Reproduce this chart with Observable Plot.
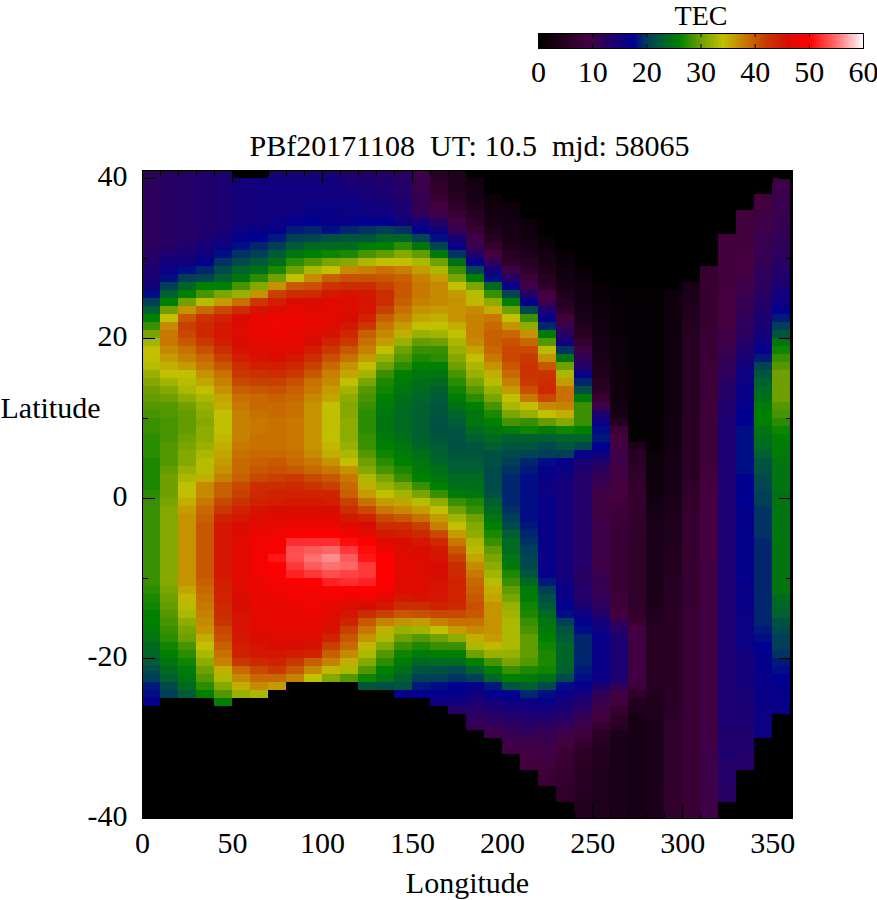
<!DOCTYPE html>
<html><head><meta charset="utf-8">
<script src="https://cdn.jsdelivr.net/npm/d3@7"></script>
<script src="https://cdn.jsdelivr.net/npm/@observablehq/plot@0.6"></script>
<style>html,body{margin:0;padding:0;background:#fff}svg{display:block}</style>
</head><body><div id="legend"></div><div id="chart"></div>
<script>
const lon0=[12,12,12,12,12,12,12,12,12,12,12.5,13,14,14.5,15,18,20,23,26,28,30.5,32.5,34,34,33.5,32,31,30,29.5,29,28.5,28,28,27.5,27.5,27.5,27,27,27,27,
27.5,28,28,28,28,28,28,28,28,28,28,28,27.5,27,26.5,26,26,25.5,25,24,23.5,22.5,21,20,18.5,18,17,0,0,0,0,0,0,0,0,0,0,0,0,0,0];
const lon10=[12.5,12.5,12.5,12.5,12.5,12.5,12.5,12.5,12.5,12.5,14,15,16,18,20,23,26,30,34,37,38,38,37,36,35,34,32.5,31,30,29,29,28.5,28.5,28.5,29,29,29,29.5,30,30,
30,30.5,31,31,31,31,31,31,31,31,31,31,30.5,30,29.5,29,28.5,28,27.5,26.5,26,25,24,23,21,20,0,0,0,0,0,0,0,0,0,0,0,0,0,0,0];
const lon20=[13,13,13,13,13,13,13,13,13,13.5,14.5,15.5,18,20,23.5,26,30,36.5,40,41.5,41,40,38.5,37.5,36,34,33.5,33,31.5,30,29.5,29.5,29.5,30,30.5,31,31,32,33,34,
34,35,36,36.5,36.5,36.5,36.5,36.5,36.5,36.5,36.5,36.5,35.5,34.5,33.5,33,31.5,30.5,30,28.5,27.5,26.5,25.5,25,24,22.5,0,0,0,0,0,0,0,0,0,0,0,0,0,0,0];
const lon30=[13.5,13.5,13.5,13.5,13.5,13.5,13.5,13.5,14,15,15.5,17,19,20.5,26,28.5,33.5,39,42.5,43.5,43.5,42,40.5,39,38,36.5,35.5,34,33,32,31.5,31,31.5,31.5,32,33,33.5,33.5,35,37,
37,38,39,39.5,40,40,40,40,40,40,40,39.5,39,38.5,38,37.5,37,36.5,35,34,33,31.5,30,29,27.5,26,0,0,0,0,0,0,0,0,0,0,0,0,0,0,0];
const lon40=[14,14,14,14,14,14,14,14,15,16,18,19.5,21,23,26,30.5,36,41,44,45,45,44.5,43,41.5,40,38.5,37.5,36.5,35.5,35,34,34,34,34.5,35,35.5,36,36.5,37.5,39.5,
39.5,41,42,44,45,45,45,45,45,45,45,44.5,44,44,43.5,43,42.5,41,40.5,39.5,38.5,37.5,35,33,31,29,26,0,0,0,0,0,0,0,0,0,0,0,0,0,0];
const lon50=[0,15,15,15,15,15,15,16,17,18,19.5,21,23.5,25,28.5,32,38.5,43,46,46.5,46.5,46,45.5,44.5,43,42,41,39.5,38.5,38,37.5,37.5,37.5,37.5,38,38.5,39,39,39.5,41,
41.5,42.5,44,45,46,46.5,47,47,47,47,47,47,46.5,46,46,45.5,45.5,45.5,45,44.5,44,42,39,37,35,32,0,0,0,0,0,0,0,0,0,0,0,0,0,0,0];
const lon60=[0,15.5,15.5,15.5,15.5,15.5,15.5,16.5,17.5,19,20,22.5,24.5,27.5,31,36.5,42,45.5,47.5,48,47.5,47,46.5,45.5,44.5,42.5,41.5,40,39,39,38.5,38,38,38.5,38.5,39,39.5,40,41,43,
43.5,44,45.5,46.5,47,48,48.5,48.5,49,49,48.5,48,48,47.5,47.5,47,47,46.5,46,45.5,45,43.5,41,39,37,33,0,0,0,0,0,0,0,0,0,0,0,0,0,0,0];
const lon70=[14.5,15.5,15.5,15.5,15.5,15.5,16,17,18.5,20,22.5,24.5,27,30,36.5,41.5,44.5,46.5,48,48.5,48,47.5,47,46,44.5,43,41.5,40.5,39.5,39,39,38.5,38.5,38.5,38.5,39,40,40.5,41.5,43,
44,44.5,46,47,47.5,48.5,49,49.5,51,50,49.5,49,48.5,48,47.5,47.5,47.5,47,46.5,46,45,44,42,39,36,0,0,0,0,0,0,0,0,0,0,0,0,0,0,0,0];
const lon80=[14.5,15.5,15.5,15.5,15.5,16,17,18.5,20,22.5,25,27.5,30,34,40,43,46,47.5,48,48,47.5,47.5,46.5,45,43.5,42,40.5,39.5,39,38.5,38.5,38,38,38,38,38.5,39,40,42,43.5,
44,45,46,47,48,49.5,52,53.5,53.5,52.5,51.5,50,49,48.5,48,47.5,47.5,47,46.5,46,44.5,42,40,37.5,0,0,0,0,0,0,0,0,0,0,0,0,0,0,0,0,0];
const lon90=[14.5,15.5,15.5,15.5,16,16.5,17.5,19,20.5,24,26,29,33,37,40.5,43.5,46,47,47.5,47.5,46.5,46,44.5,43,41.5,40,38.5,38,37,36.5,36.5,36.5,36.5,36.5,36.5,37,38,39,41,42.5,
44,45,46,47,48,50,52,54,55,54,52.5,50,49,48.5,48.5,48,47.5,47,46.5,45.5,44,39.5,37,34,0,0,0,0,0,0,0,0,0,0,0,0,0,0,0,0,0];
const lon100=[14.5,15.5,15.5,15.5,16,16.5,16.5,18,21.5,24,26.5,30.5,34,39.5,42.5,45,46.5,47,47,46.5,45.5,44,42,40.5,39,37.5,37,36,35.5,34,34,34,34,34,34.5,35,36.5,38,40,41.5,
44,44.5,46,47,48,50,52,54.5,56,55,53.5,51.5,49.5,48.5,47.5,47,46.5,45.5,44,41.5,39.5,37.5,34.5,31,0,0,0,0,0,0,0,0,0,0,0,0,0,0,0,0,0];
const lon110=[13.5,14.5,15,15.5,16,16,16.5,19,22,24,27,31,37,40.5,43,45.5,46.5,46.5,46,45,43.5,42,40,38.5,36.5,35.5,34,32.5,31.5,31,31,31.5,31.5,31.5,32,33,34,36.5,38,39,
39.5,41.5,43,45,47,48.5,50.5,52.5,54,54.5,53,52,50,48,46.5,45,44,41.5,40,39,37,35,33,29,0,0,0,0,0,0,0,0,0,0,0,0,0,0,0,0,0];
const lon120=[13.5,14,14.5,15,15.5,16,17.5,19.5,22,25.5,28.5,33,37.5,40.5,43,45,45.5,45.5,44,42,39.5,38.5,37.5,36,34,32.5,30.5,29,28.5,28,27.5,27.5,27.5,28,28,29,30,31,33,35,
36,38.5,41,44,46,47.5,49.5,50.5,51,52.5,52.5,51.5,50,48.5,46,43,40,38,36.5,34.5,33,31,29,26.5,22,0,0,0,0,0,0,0,0,0,0,0,0,0,0,0,0];
const lon130=[13,13.5,14,14.5,15,15.5,17.5,20,23.5,26,29.5,34,38.5,40,41.5,43,43,41.5,39.5,38,37,36,34,32,30,28,27,26.5,26,25.5,25,25,25,25.5,26,26.5,27.5,28.5,30.5,32,
34,36,38,41,43,45,47,48,50,50,50,50,49,47,45,41.5,37.5,35,33,31,29,27.5,26,25,21.5,0,0,0,0,0,0,0,0,0,0,0,0,0,0,0,0];
const lon140=[12.5,13,13,13.5,14,14.5,15.5,19.5,23.5,27.5,31,34,37.5,39.5,40,40,39.5,38.5,37.5,36,35,32,30,29,27.5,26,25.5,25,24.5,24,24,24,24,24.5,25,25.5,26,27,28,30.5,
32.5,35.5,37,40,43,44.5,46,46.5,47,47,47,47,46.5,45,43,40,36.5,32,30,28,26.5,25.5,24.5,23,22,17,0,0,0,0,0,0,0,0,0,0,0,0,0,0,0];
const lon150=[10,10.5,10.5,11,11,11.5,15,17,20.5,25,29.5,33,36,37.5,38,38,37.5,36.5,35.5,34,32,29.5,28,27,26,25,24.5,24,23.5,23,23,23,23,23,23.5,24.5,25,25.5,26,28,
30.5,33.5,36,38.5,41.5,43.5,45,46,46.5,46.5,46.5,46.5,46.5,45.5,43,40.5,36,32.5,29,27,25.5,23.5,22,20,18.5,17,0,0,0,0,0,0,0,0,0,0,0,0,0,0,0];
const lon160=[5,6,6.5,7.5,8.5,10,12.5,15.5,18,20.5,25.5,30,33,36,37,37,37,36,35,34,32.5,30,28,27.5,26,25,24,23,22.5,22,22,21.5,21.5,22,22.5,23,23.5,24.5,25,26,
28,31.5,34,36,37.5,41,43.5,45,45.5,46,46,45.5,45.5,45,44,41,37.5,34,30,28,26,24,21.5,20,18,17,15.5,0,0,0,0,0,0,0,0,0,0,0,0,0,0];
const lon170=[4,4,4.5,5,6,7.5,9.5,11,14,16.5,19.5,24.5,28,30.5,34,36,36.5,36.5,36.5,35,34,33,32,31,30,28.5,27.5,26.5,25.5,24.5,23.5,22.5,22,21.5,21.5,22,22.5,23,24,24.5,
25.5,28,30,32.5,34,36,38,40,41.5,43,43.5,44,44,44,43.5,41,38.5,36,31.5,28,26,24,21,19.5,17.5,17,15.5,13,0,0,0,0,0,0,0,0,0,0,0,0,0];
const lon180=[0,2.5,3,3,4,5,6,7.5,10,10.5,13,17,20.5,26,30.5,33.5,34.5,37,37.5,37.5,37.5,37,35.5,34,33,32,30.5,29,27.5,26,25,25,24,23,22,22,22.5,23,24,24.5,
25,27,28,30,31,31.5,33,34.5,35.5,37,38,39,39.5,40,40.5,40,38.5,37,35,33,30,26,23.5,20,17,15.5,14,13,12,11,0,0,0,0,0,0,0,0,0,0,0];
const lon190=[0,0,0,1.5,2,2.5,3,4,5,6.5,9,11.5,15,18,24,28,31.5,35,38,39,39.5,39.5,39,38,36.5,35,33.5,32,30.5,28.5,27,26,25,24,23,21.5,21.5,21,21,21,
21.5,23,24,25,26,27,28,29.5,30.5,31.5,32.5,33.5,35,35.5,36.5,36.5,36.5,36.5,36,34.5,32,28.5,26,23.5,18.5,17,15,13.5,12.5,11,10,0,0,0,0,0,0,0,0,0,0];
const lon200=[0,0,0,0,2,2,2.5,3,3,4,5,6,10,12.5,16.5,20.5,26,30,34,36.5,39,40.5,41,41,40,39,37.5,36,34,33,30.5,28.5,25.5,23,22,21,20,19.5,19,19,
19,19,19.5,20,21,23,24,24,25,25.5,27,28,29.5,30.5,32,32.5,33,33,33,33,32,30.5,28,26,22,17.5,16,14.5,13,12,11,10,9.5,0,0,0,0,0,0,0,0];
const lon210=[0,0,0,0,0,0,1.5,2,2.5,3,4,5,6,8,10,13,17,21,28,31.5,36.5,39,41,42,42.5,42.5,42,40.5,38,34,32,28,26.5,23,22,20.5,19,18.5,18,18,
18,18,18,18,18.5,19,19.5,20,20.5,21,22,24,25.5,26,26.5,27,28,28.5,29.5,29.5,29.5,29,27,25.5,23,19,16,15,13.5,12.5,11.5,10,9.5,9,8.5,0,0,0,0,0,0];
const lon220=[0,0,0,0,0,0,0,0,1,1.5,2.5,3,4,5,6,9,10,14,16.5,19,25.5,29,33.5,36.5,40,42.5,43,43.5,41,37,34,29.5,25.5,23,21,20,18,16.5,16.5,16,
16,16.5,16.5,16.5,16.5,16.5,16.5,16.5,16.5,16.5,17,18.5,20,21.5,22.5,24,25,25.5,26,26.5,27,27,26.5,24.5,21,18,16.5,15,13.5,12,11,10.5,10,9.5,8.5,8,7.5,0,0,0,0];
const lon230=[0,0,0,0,0,0,0,0,0,0,1,1.5,2,2.5,3,4,5,6,8.5,10.5,12.5,15,19.5,25,30,33,36,38.5,38.5,37.5,35,31,26.5,23.5,22,20,17,16,15.5,15,
15,15,15,15,15,15,15,15,15,15,15,15.5,16.5,16.5,17,18,20,22,22.5,23.5,23.5,23.5,23,21,18,16.5,15,14,13,11.5,10,9,8,7.5,7,7,6.5,6,6,0,0];
const lon240=[0,0,0,0,0,0,0,0,0,0,0,0,1,1.5,2,2.5,2.5,3,3.5,4.5,5,6.5,9.5,11.5,13,16.5,19,21.5,25.5,28,28,28,26,23.5,21,17,14.5,13.5,13,13,
13,13,13,13,13,13,13,13,13,13,12.5,12.5,13,13,14,16,17,18,19,19,19,19,18.5,18,17,15,13.5,12.5,11,10,8,7,6,5.5,5,5,5,5,4.5,4.5,4.5];
const lon250=[0,0,0,0,0,0,0,0,0,0,0,0,0,0,1,1,1.5,1.5,2,2,2.5,3,3,3.5,4,4,5,5.5,7.5,10,14,16,18,18.5,17.5,16,13.5,12,11,10.5,
9.5,9.5,9.5,9.5,10,10,10,10,10,10,10.5,11,11,11.5,12,13.5,15,16,17,16.5,16.5,16.5,16.5,16,14,11.5,10.5,9.5,8.5,7,5.5,5,4.5,4.5,4.5,4,4,4,4,4,4];
const lon260=[0,0,0,0,0,0,0,0,0,0,0,0,0,0,0,0.5,0.5,1,1,1,1,1.5,1.5,1.5,1.5,2,2,2,2,2.5,3,4.5,8,9,9.5,10,10,9.5,9.5,9,
9,8.5,8,8,7.5,7.5,7.5,7.5,7.5,7.5,7.5,7.5,7.5,8,8,9,11,13,14,14,14,14,14,14,12,9.5,8.5,7,6,5,3.5,3.5,3.5,3.5,3.5,3.5,3.5,3.5,3.5,3.5,3.5];
const lon270=[0,0,0,0,0,0,0,0,0,0,0,0,0,0,0,0.5,0.5,0.5,0.5,0.5,0.5,0.5,0.5,0.5,0.5,0.5,0.5,0.5,0.5,0.5,0.5,0.5,0.5,0.5,4,5,5.5,6,6,6.5,
7,6.5,6.5,6.5,6.5,6,6,6,6,6,6,6,6,6,6,6.5,7.5,9,9.5,9.5,9.5,9.5,9.5,9.5,8,6,4.5,4,3,3,3,3,3,3,3,3,3,3,3,3,3];
const lon280=[0,0,0,0,0,0,0,0,0,0,0,0,0,0,0,0.5,0.5,0.5,0.5,0.5,0.5,0.5,0.5,0.5,0.5,0.5,0.5,0.5,0.5,0.5,0.5,0.5,0.5,0.5,0.5,1.5,1.5,1.5,1.5,2,
2,2.5,3,3,3.5,3.5,3.5,3.5,3.5,3.5,3.5,3.5,3.5,3.5,4,4.5,4.5,5,5,5,5,5,5,5,5,4.5,4,4,4,3.5,3.5,3.5,3.5,3.5,3.5,3.5,3.5,3.5,3.5,3.5,3.5];
const lon290=[0,0,0,0,0,0,0,0,0,0,0,0,0,0,0,2,2,2,2,2,2,2,2,2,2,2,2,2,2,2,2,2.5,2.5,2.5,2.5,2.5,3,3,3,3,
3,3.5,3.5,4,4,4,4,4.5,4.5,4.5,4.5,5,5,5,5,5.5,5.5,5.5,5.5,5.5,5.5,5.5,5.5,5.5,5.5,5.5,5.5,5.5,6,6,6,6,6,6,6,6,6,6.5,6.5,6.5,6.5];
const lon300=[0,0,0,0,0,0,0,0,0,0,0,0,0,0,3,3.5,4,4,4.5,4.5,5,5,5,5,5,5,5,5,5,5,5,5.5,5.5,5.5,5.5,5.5,5.5,5.5,5.5,6,
6,6.5,6.5,7,7,7,7,7,7,7,7,7,7,7,7,7.5,7.5,7.5,7.5,7.5,7.5,7.5,7.5,7.5,7.5,7.5,7.5,7.5,7.5,7.5,7.5,7.5,7.5,7.5,7.5,7.5,7.5,7.5,7.5,7.5,7.5];
const lon310=[0,0,0,0,0,0,0,0,0,0,0,0,7,7,7,7,7,7,7,7,7.5,7.5,7.5,7.5,8,8,8,8,8,8,8,8,8,8,8,8,8,8.5,8.5,8.5,
9,9,9,9,9,9,9,9,9,9.5,9.5,9.5,9.5,9.5,9.5,9.5,9.5,9.5,9.5,9.5,9.5,9.5,9.5,9.5,9.5,9.5,9.5,9.5,9.5,9.5,9.5,9.5,10,10,10,10,10,10,10,10,10];
const lon320=[0,0,0,0,0,0,0,0,8.5,8.5,8.5,8.5,8.5,8.5,8.5,9,9,9,9,9,10,10,10.5,11,11.5,12,12.5,13,13,13.5,13.5,14,14,14,14,14,14,14,14,14,
14,14,14,14,14,14,14,14,14,14,14,14,14,14,14,14,14,14,14,14,14,14,14,14,14,14,14,14,14,14,13.5,13.5,13.5,13.5,13,13,13,12.5,12.5,0,0];
const lon330=[0,0,0,0,0,8.5,8.5,8.5,8.5,8.5,9,9,9,9.5,10,10.5,11,11,11.5,12,12,13,13.5,14.5,15,16,16,16.5,16.5,17,17.5,17.5,18,18,18,18,18,18,17.5,17.5,
17.5,17.5,17,17,17,17,17,17,17,17,17,17,16.5,16.5,16.5,16,16,16,16,16,15.5,15,15,15,15,14.5,14.5,14,14,14,13.5,13.5,13.5,13,13,0,0,0,0,0,0];
const lon340=[0,0,0,8.5,9,9.5,10,10,10.5,10.5,11,11,11.5,12,12,12.5,13,13.5,14,14.5,15,16,17,18.5,20.5,22,23,24,24.5,25.5,26,26,25,24.5,24,23,22,21.5,21,20.5,
20,20,19.5,19.5,19.5,19.5,19,19,19,19,19,19,19,19,19,19,19,18.5,18,17.5,17,17,17,16.5,16.5,16.5,16.5,16,16,16,16,0,0,0,0,0,0,0,0,0,0];
const lon350=[0,10,10,10.5,10.5,10.5,11,11,11.5,11.5,12,12.5,13,13.5,14,15.5,16,17,18.5,20,22,25,26.5,28,29,30,30,30,30,29,28.5,27.5,26.5,26,25.5,25.5,25,25,25,25,
24.5,25,25,25,25,25,25,25,25,25,25,25,25,24,23.5,23,21.5,21,20,20,19.5,18.5,18,17.5,17,17,16.5,16.5,0,0,0,0,0,0,0,0,0,0,0,0,0];

const lonColumns=[lon0,lon10,lon20,lon30,lon40,lon50,lon60,lon70,lon80,lon90,lon100,lon110,lon120,lon130,lon140,lon150,lon160,lon170,lon180,lon190,lon200,lon210,lon220,lon230,lon240,lon250,lon260,lon270,lon280,lon290,lon300,lon310,lon320,lon330,lon340,lon350];

const paletteStops=[0,9,13,17.5,20,23,26,30,34,38,42,46,50,55,60];
const paletteColors=["#000000","#46003f","#240068","#000090","#003f58","#006030","#008000","#70a000","#c0c000","#c87800","#c83800","#d80c00","#ff0000","#ff7070","#ffffff"];
const colorScale={type:"linear",domain:paletteStops,range:paletteColors,interpolate:"rgb",clamp:true};
const serif='"Liberation Serif",serif';
const lonLabels=[0,50,100,150,200,250,300,350];
const latLabels=[-40,-20,0,20,40];
const lonTicks=d3.range(0,361,10), latTicks=[-30,-10,10,30];
const cells=lonColumns.flatMap((col,i)=>col.map((v,k)=>({lon:i*10,lat:40-k,v})));

const H=648;
const chart=Plot.plot({
  width:877,height:800,marginLeft:142,marginRight:85,marginTop:70,marginBottom:82,
  style:{fontFamily:serif,fontSize:"30px",background:"#fff",color:"#000"},
  x:{domain:[0,361]},y:{domain:[-40,41]},color:colorScale,
  marks:[
    Plot.frame({fill:"#000"}),
    Plot.rect(cells,{x1:"lon",x2:d=>d.lon+10,y1:"lat",y2:d=>d.lat+1,fill:"v",shapeRendering:"crispEdges"}),
    Plot.tickX(lonTicks,{x:d=>d,insetBottom:H-6,stroke:"#000"}),
    Plot.tickX(lonTicks,{x:d=>d,insetTop:H-6,stroke:"#000"}),
    Plot.tickX(lonLabels,{x:d=>d,insetBottom:H-13,stroke:"#000"}),
    Plot.tickX(lonLabels,{x:d=>d,insetTop:H-13,stroke:"#000"}),
    Plot.tickY(latTicks,{y:d=>d,insetRight:650-6,stroke:"#000"}),
    Plot.tickY(latTicks,{y:d=>d,insetLeft:650-6,stroke:"#000"}),
    Plot.tickY(latLabels,{y:d=>d,insetRight:650-13,stroke:"#000"}),
    Plot.tickY(latLabels,{y:d=>d,insetLeft:650-13,stroke:"#000"}),
    Plot.frame({stroke:"#000"}),
    Plot.axisX({ticks:lonLabels,tickSize:0,tickPadding:13,label:null,tickFormat:d=>String(d)}),
    Plot.axisY({ticks:latLabels,tickSize:0,tickPadding:15,label:null,dy:-2,tickFormat:d=>String(d)}),
    Plot.text(["Longitude"],{frameAnchor:"bottom",dy:74,text:d=>d,fontSize:30}),
    Plot.text(["Latitude"],{frameAnchor:"left",dx:-142,dy:-86,textAnchor:"start",text:d=>d,fontSize:30}),
    Plot.text(["PBf20171108  UT: 10.5  mjd: 58065"],{frameAnchor:"top",dy:-36,dx:2,text:d=>d,fontSize:30})
  ]
});
document.getElementById("chart").appendChild(chart);

const legendSteps=d3.range(0,60,0.25);
const legendLabels=[0,10,20,30,40,50,60];
const legend=Plot.plot({
  width:877,height:100,marginLeft:538,marginRight:14,marginTop:33,marginBottom:52,
  style:{fontFamily:serif,fontSize:"30px",background:"#fff",color:"#000"},
  x:{domain:[0,60]},color:colorScale,
  marks:[
    Plot.rect(legendSteps,{x1:d=>d,x2:d=>d+0.25,fill:d=>d,shapeRendering:"crispEdges"}),
    Plot.tickX(legendLabels,{x:d=>d,insetBottom:11,stroke:"#000"}),
    Plot.tickX(legendLabels,{x:d=>d,insetTop:11,stroke:"#000"}),
    Plot.frame({stroke:"#000"}),
    Plot.axisX({ticks:legendLabels,tickSize:0,tickPadding:12,label:null,tickFormat:d=>String(d)}),
    Plot.text(["TEC"],{frameAnchor:"top",dy:-28,text:d=>d,fontSize:28})
  ]
});
document.getElementById("legend").appendChild(legend);
</script></body></html>
